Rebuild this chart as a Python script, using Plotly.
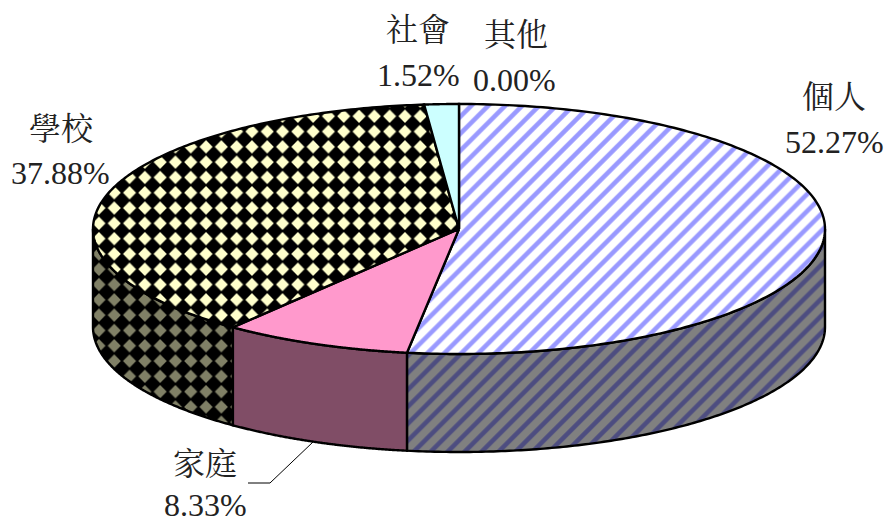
import numpy as np
import plotly.graph_objects as go

categories = ["個人", "家庭", "學校", "社會", "其他"]
percents = [52.27, 8.33, 37.88, 1.52, 0.00]

# Styling / layout (pixel space)
CX, CY, RX, RY, DEPTH = 459.0, 229.0, 366.0, 125.0, 98.0
top_styles = [
    dict(shape="/", fgcolor="#9999ff", bgcolor="#ffffff", size=12, solidity=0.38),
    dict(fillcolor="#ff99cc"),
    dict(shape=".", fgcolor="#ffffcc", bgcolor="#000000", size=15.3, solidity=0.32),
    dict(fillcolor="#ccffff"),
    dict(fillcolor="#660066"),
]
side_styles = [
    dict(shape="/", fgcolor="#4d4d80", bgcolor="#808080", size=12, solidity=0.38),
    dict(fillcolor="#804d66"),
    dict(shape=".", fgcolor="#808066", bgcolor="#000000", size=15.3, solidity=0.32),
    dict(fillcolor="#668080"),
    dict(fillcolor="#330033"),
]
cat_pos = [(834, 97), (205, 464), (61, 129), (418, 30), (516, 35)]
pct_pos = [(834, 142), (205, 505), (60, 173), (418, 75), (514, 80)]
leader_x = [313, 270, 248]
leader_y = [442, 483, 483]
FONT = "Liberation Serif, Noto Serif CJK TC, Noto Sans CJK TC, serif"
FONT_SIZE = 32


def ellipse(theta_deg, dy=0.0):
    t = np.radians(theta_deg)
    return CX + RX * np.sin(t), CY - RY * np.cos(t) + dy


def add_poly(fig, xs, ys, style):
    style = dict(style)
    kw = {}
    if "fillcolor" in style:
        kw["fillcolor"] = style["fillcolor"]
    else:
        kw["fillcolor"] = style["bgcolor"]
        kw["fillpattern"] = dict(
            shape=style["shape"], fgcolor=style["fgcolor"], bgcolor=style["bgcolor"],
            size=style["size"], solidity=style["solidity"], fillmode="replace",
        )
    fig.add_trace(go.Scatter(
        x=xs, y=ys, mode="lines", fill="toself",
        line=dict(color="#000000", width=2.4, simplify=False),
        hoverinfo="skip", showlegend=False, **kw,
    ))


fig = go.Figure()
total = sum(percents)
edges = np.concatenate([[0.0], np.cumsum(percents)]) * 360.0 / total

# walls first
for i in range(len(percents)):
    a, b = max(edges[i], 90.0), min(edges[i + 1], 270.0)
    if b <= a:
        continue
    th = np.linspace(a, b, 160)
    x0, y0 = ellipse(th)
    x1, y1 = ellipse(th[::-1], DEPTH)
    add_poly(fig, np.r_[x0, x1, x0[0]], np.r_[y0, y1, y0[0]], side_styles[i])

# top faces
for i in range(len(percents)):
    if percents[i] <= 0:
        continue
    th = np.linspace(edges[i], edges[i + 1], 200)
    x0, y0 = ellipse(th)
    add_poly(fig, np.r_[CX, x0, CX], np.r_[CY, y0, CY], top_styles[i])

fig.add_trace(go.Scatter(x=leader_x, y=leader_y, mode="lines",
                         line=dict(color="#000000", width=1),
                         hoverinfo="skip", showlegend=False))

for name, pct, cp, pp in zip(categories, percents, cat_pos, pct_pos):
    fig.add_annotation(x=cp[0], y=cp[1], text=name, showarrow=False,
                       font=dict(family=FONT, size=FONT_SIZE, color="#222222"))
    fig.add_annotation(x=pp[0], y=pp[1], text=f"{pct:.2f}%", showarrow=False,
                       font=dict(family=FONT, size=FONT_SIZE, color="#222222"))

fig.update_layout(
    width=887, height=522, margin=dict(l=0, r=0, t=0, b=0),
    paper_bgcolor="#ffffff", plot_bgcolor="#ffffff", showlegend=False,
    xaxis=dict(range=[0, 887], visible=False, fixedrange=True),
    yaxis=dict(range=[522, 0], visible=False, fixedrange=True),
)

post = """
document.body.style.margin = '0';
var gd = document.getElementById('{plot_id}');
function fixPatterns() {
  document.querySelectorAll('pattern').forEach(function (p) {
    var c = p.querySelector('circle');
    if (!c) return;
    var s = parseFloat(p.getAttribute('width'));
    var m = s / 2, r = s * 0.43;
    var d = document.createElementNS('http://www.w3.org/2000/svg', 'path');
    d.setAttribute('d', 'M' + (m - r) + ' ' + m + 'L' + m + ' ' + (m - r) + 'L' + (m + r) + ' ' + m + 'L' + m + ' ' + (m + r) + 'Z');
    d.setAttribute('style', c.getAttribute('style') || '');
    d.setAttribute('fill', c.getAttribute('fill') || c.style.fill);
    c.parentNode.replaceChild(d, c);
    p.setAttribute('patternTransform', 'translate(-0.5 1.5)');
  });
}
fixPatterns();
if (gd && gd.on) gd.on('plotly_afterplot', fixPatterns);
"""
fig.write_html("out.html", post_script=post, config=dict(displayModeBar=False))
